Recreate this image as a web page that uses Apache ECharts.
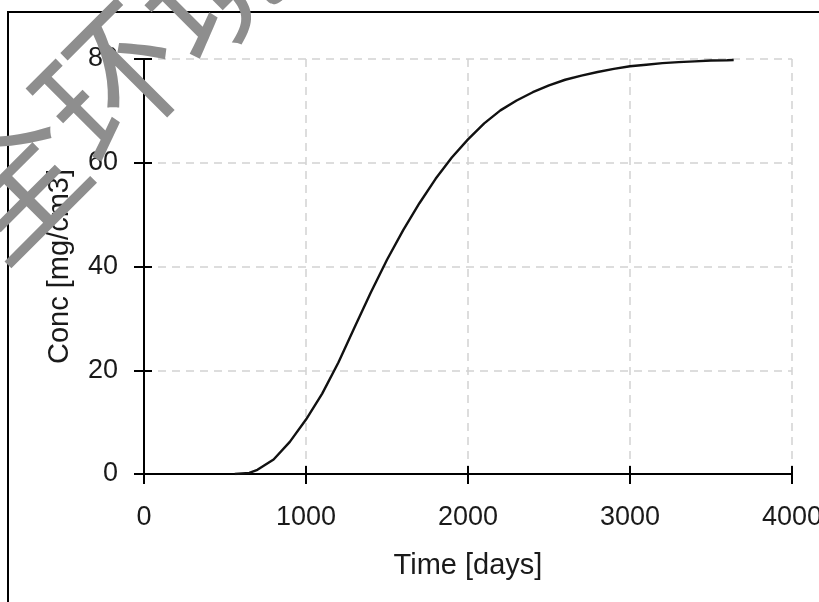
<!DOCTYPE html>
<html>
<head>
<meta charset="utf-8">
<script src="https://cdn.jsdelivr.net/npm/echarts@6/dist/echarts.min.js"></script>
<style>
  html, body { margin: 0; padding: 0; background: #fff; }
  #chart { width: 819px; height: 602px; }
</style>
</head>
<body>
<div id="chart"></div>
<script>
// time [days] and concentration [mg/cm3]
const timeDays = [560, 650, 700, 800, 900, 1000, 1100, 1200, 1300, 1400, 1500, 1600, 1700, 1800,
  1900, 2000, 2100, 2200, 2300, 2400, 2500, 2600, 2700, 2800, 2900, 3000, 3100, 3200, 3300,
  3400, 3500, 3600, 3640]
const conc = [0, 0.2, 0.8, 2.8, 6.2, 10.5, 15.5, 21.5, 28.3, 35.0, 41.3, 47.0, 52.2, 56.9,
  61.0, 64.5, 67.6, 70.1, 72.0, 73.6, 74.9, 76.0, 76.8, 77.5, 78.1, 78.6, 78.9, 79.2, 79.4,
  79.55, 79.7, 79.75, 79.8]
const xTicks = [0, 1000, 2000, 3000, 4000]
const yTicks = [0, 20, 40, 60, 80]

const ink = '#1a1a1a'
const font = 'Liberation Sans'
const gridLine = { show: true, lineStyle: { color: '#d2d2d2', width: 1.5, type: [8, 6] } }

let myChart = echarts.init(document.getElementById('chart'))

// the second axis of each pair only draws the inner half of the ticks
function xAxisOf (inner) {
  return {
    type: 'value',
    position: 'bottom',
    min: xTicks[0],
    max: xTicks[xTicks.length - 1],
    interval: xTicks[1] - xTicks[0],
    name: inner ? '' : 'Time [days]',
    nameLocation: 'middle',
    nameGap: 77,
    nameTextStyle: { fontFamily: font, fontSize: 29, color: ink },
    axisLine: { show: !inner, lineStyle: { color: '#000', width: 2 } },
    axisTick: { show: true, inside: inner, length: inner ? 8 : 10, lineStyle: { color: '#000', width: 2 } },
    axisLabel: { show: !inner, margin: 30, fontFamily: font, fontSize: 27, color: ink, formatter: v => String(v) },
    splitLine: inner ? { show: false } : gridLine
  }
}
function yAxisOf (inner) {
  return {
    type: 'value',
    position: 'left',
    min: yTicks[0],
    max: yTicks[yTicks.length - 1],
    interval: yTicks[1] - yTicks[0],
    name: inner ? '' : 'Conc [mg/cm3]',
    nameLocation: 'middle',
    nameGap: 70,
    nameTextStyle: { fontFamily: font, fontSize: 29, color: ink },
    axisLine: { show: !inner, lineStyle: { color: '#000', width: 2 } },
    axisTick: { show: true, inside: inner, length: inner ? 8 : 10, lineStyle: { color: '#000', width: 2 } },
    axisLabel: { show: !inner, margin: 26, fontFamily: font, fontSize: 27, color: ink, formatter: v => String(v) },
    splitLine: inner ? { show: false } : gridLine
  }
}

myChart.setOption({
  backgroundColor: '#fff',
  animation: false,
  grid: { left: 144, right: 27, top: 59, bottom: 128, containLabel: false, outerBoundsMode: 'none' },
  xAxis: [xAxisOf(false), xAxisOf(true)],
  yAxis: [yAxisOf(false), yAxisOf(true)],
  series: [{
    type: 'line',
    data: timeDays.map((t, i) => [t, conc[i]]),
    showSymbol: false,
    lineStyle: { color: '#111', width: 2.4 },
    z: 5
  }],
  graphic: [
    // outer frame, cut off by the picture at right and bottom
    {
      type: 'rect',
      shape: { x: 8, y: 12, width: 900, height: 700 },
      style: { fill: 'none', stroke: '#000', lineWidth: 2 },
      silent: true
    },
    // grey watermark over the top-left corner
    {
      type: 'text',
      x: 111,
      y: 82,
      rotation: 0.785,
      z: 100,
      silent: true,
      style: {
        text: '全环境',
        x: 0,
        y: 0,
        align: 'center',
        verticalAlign: 'middle',
        fontFamily: 'Noto Sans CJK SC',
        fontWeight: 'normal',
        fontSize: 142,
        fill: '#8e8e8e'
      }
    }
  ]
})
</script>
</body>
</html>
